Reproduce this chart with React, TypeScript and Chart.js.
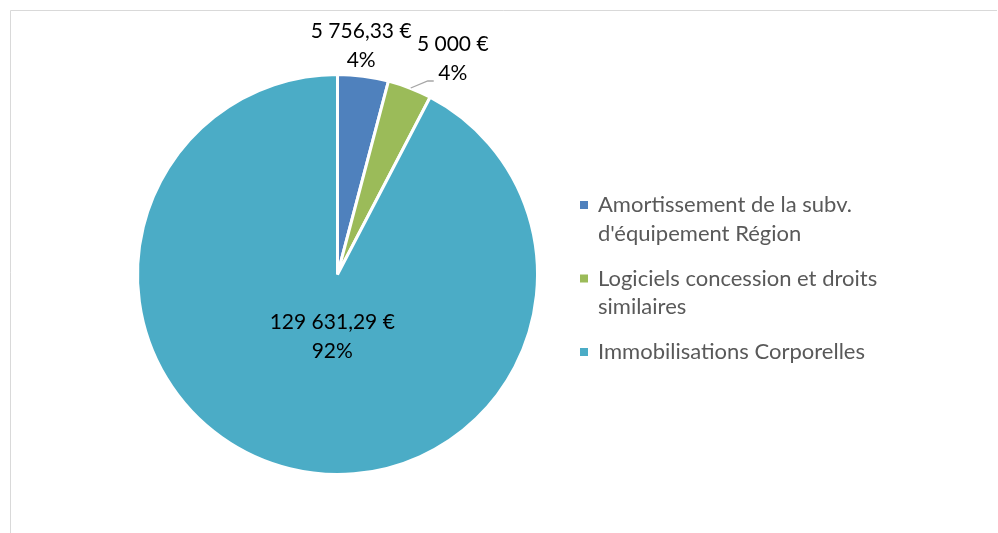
import React, { useEffect, useRef } from "react";
import { Chart, registerables } from "chart.js";

Chart.register(...registerables);

const categories: string[][] = [
  ["Amortissement de la subv.", "d'équipement Région"],
  ["Logiciels concession et droits", "similaires"],
  ["Immobilisations Corporelles"],
];
const values: number[] = [5756.33, 5000, 129631.29];
const valueLabels: string[] = ["5 756,33 €", "5 000 €", "129 631,29 €"];
const percentLabels: string[] = ["4%", "4%", "92%"];
const colors: string[] = ["#4F81BD", "#9BBB59", "#4BACC6"];

const FONT = "Lato, 'Open Sans', sans-serif";

const framePlugin = {
  id: "frame",
  beforeDraw(chart: any) {
    const ctx = chart.ctx;
    ctx.save();
    ctx.fillStyle = "#ffffff";
    ctx.fillRect(0, 0, chart.width, chart.height);
    ctx.strokeStyle = "#D9D9D9";
    ctx.lineWidth = 1;
    ctx.beginPath();
    ctx.moveTo(10.5, chart.height + 2);
    ctx.lineTo(10.5, 10.5);
    ctx.lineTo(chart.width - 1, 10.5);
    ctx.stroke();
    ctx.restore();
  },
};

// label placement (style/position config, not data)
const placements = [
  { mode: "outside", dx: -2, dy: -30, leader: false },
  { mode: "outside", dx: 43, dy: -29, leader: true },
  { mode: "inside", frac: 0.32, dx: 10, dy: 0, leader: false },
];

const labelPlugin = {
  id: "sliceLabels",
  afterDatasetsDraw(chart: any) {
    const ctx = chart.ctx;
    const meta = chart.getDatasetMeta(0);
    ctx.save();
    ctx.font = `21px ${FONT}`;
    ctx.fillStyle = "#000000";
    ctx.textAlign = "center";
    ctx.textBaseline = "middle";
    meta.data.forEach((arc: any, i: number) => {
      const p = arc.getProps(["x", "y", "startAngle", "endAngle", "outerRadius"], true);
      const mid = (p.startAngle + p.endAngle) / 2;
      const pl: any = placements[i];
      let cx: number, cy: number;
      if (pl.mode === "outside") {
        const ax = p.x + Math.cos(mid) * p.outerRadius;
        const ay = p.y + Math.sin(mid) * p.outerRadius;
        cx = ax + pl.dx;
        cy = ay + pl.dy;
        if (pl.leader) {
          ctx.strokeStyle = "#A6A6A6";
          ctx.lineWidth = 1.3;
          ctx.beginPath();
          ctx.moveTo(ax + 1, ay);
          ctx.lineTo(cx - 25, cy + 22);
          ctx.lineTo(cx - 19, cy + 22);
          ctx.stroke();
        }
      } else {
        cx = p.x + Math.cos(mid) * p.outerRadius * pl.frac + pl.dx;
        cy = p.y + Math.sin(mid) * p.outerRadius * pl.frac + pl.dy;
      }
      ctx.fillText(valueLabels[i], cx, cy - 14.5);
      ctx.fillText(percentLabels[i], cx, cy + 14.5);
    });
    ctx.restore();
  },
};

const legendPlugin = {
  id: "sideLegend",
  afterDraw(chart: any) {
    const ctx = chart.ctx;
    const labels = chart.data.labels as string[][];
    const bg = chart.data.datasets[0].backgroundColor as string[];
    ctx.save();
    ctx.font = `22px ${FONT}`;
    ctx.fillStyle = "#595959";
    ctx.textAlign = "left";
    ctx.textBaseline = "middle";
    let y = 205;
    labels.forEach((lines, i) => {
      ctx.fillStyle = bg[i];
      ctx.fillRect(580, y - 4, 8, 8);
      ctx.fillStyle = "#595959";
      lines.forEach((ln, j) => {
        ctx.fillText(ln, 598, y);
        if (j < lines.length - 1) y += 28.5;
      });
      y += 45;
    });
    ctx.restore();
  },
};

export default function App() {
  const ref = useRef<HTMLCanvasElement | null>(null);
  useEffect(() => {
    if (!ref.current) return;
    const chart = new Chart(ref.current, {
      type: "pie",
      data: {
        labels: categories as any,
        datasets: [
          {
            data: values,
            backgroundColor: colors,
            borderColor: "#ffffff",
            borderWidth: 3,
            hoverOffset: 0,
            hoverBorderWidth: 3,
          },
        ],
      },
      options: {
        responsive: false,
        animation: false,
        devicePixelRatio: 1,
        layout: { padding: { left: 136, right: 459, top: 73, bottom: 57 } },
        plugins: {
          legend: { display: false },
          tooltip: { enabled: false },
        },
        events: [],
      },
      plugins: [framePlugin, labelPlugin, legendPlugin],
    });
    return () => chart.destroy();
  }, []);
  return (
    <div style={{ position: "fixed", left: 0, top: 0, width: 998, height: 533 }}>
      <canvas ref={ref} width={998} height={533} style={{ width: 998, height: 533 }} />
    </div>
  );
}
